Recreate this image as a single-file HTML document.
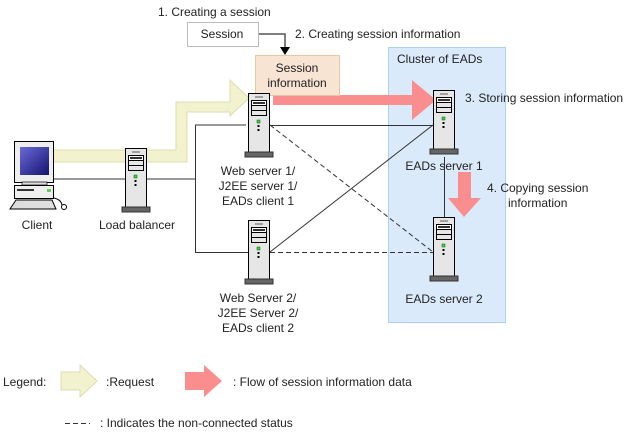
<!DOCTYPE html>
<html><head><style>
body{margin:0;background:#fff;}
svg{display:block;font-family:"Liberation Sans",Arial,sans-serif;font-size:12px;fill:#222;}
</style></head><body>
<svg width="632" height="433" viewBox="0 0 632 433" xmlns="http://www.w3.org/2000/svg">
<defs>
<g id="srv">
<rect x="0.5" y="0.5" width="21" height="59" fill="#e6e6e6" stroke="#000"/>
<line x1="7" y1="4" x2="15" y2="4" stroke="#888" stroke-width="1.5"/>
<rect x="3.5" y="7.5" width="15" height="5" fill="#fff" stroke="#000"/>
<rect x="5" y="9" width="12" height="2" fill="#333"/>
<rect x="3.5" y="12.5" width="15" height="5" fill="#e6e6e6" stroke="#000"/>
<rect x="3.5" y="17.5" width="15" height="5" fill="#e6e6e6" stroke="#000"/>
<rect x="9" y="27" width="3" height="3" fill="#4c4" stroke="#060" stroke-width="0.5"/>
<rect x="9.5" y="32" width="2" height="2" fill="#000"/>
<rect x="9.5" y="36" width="2" height="2" fill="#000"/>
<rect x="-3" y="59" width="28" height="5" fill="#666" stroke="#333"/>
</g>
<linearGradient id="scr" x1="0" y1="0" x2="1" y2="1"><stop offset="0" stop-color="#6a6ad8"/><stop offset="1" stop-color="#141470"/></linearGradient>
</defs>

<!-- cluster -->
<rect x="388.5" y="47.5" width="117" height="275" fill="#dbeafb" stroke="#aed0f2"/>
<text x="397" y="63">Cluster of EADs</text>

<!-- session -->
<text x="158" y="16">1. Creating a session</text>
<rect x="187.5" y="22.5" width="71" height="24" fill="#fff" stroke="#bbb"/>
<text x="222" y="38" text-anchor="middle">Session</text>
<polyline points="259,34 285,34 285,49" fill="none" stroke="#555" stroke-width="1.5"/>
<polygon points="280,47 290,47 285,55" fill="#000"/>
<text x="295" y="38">2. Creating session information</text>

<!-- yellow request arrow -->
<polygon points="53,150 176,150 176,102 230,102 230,80 249,98 230,116 230,112 187,112 187,162 53,162" fill="#f2f2cf" stroke="#dcdcb0"/>

<!-- red arrow -->
<polygon points="273,95 412,95 412,80 436,100 412,120 412,105 273,105" fill="#fa8e8e"/>
<rect x="255.5" y="55.5" width="84" height="40" fill="#f8e4d2" stroke="#e8c8a4"/>
<text x="297" y="72" text-anchor="middle">Session</text>
<text x="297" y="87" text-anchor="middle">information</text>
<text x="465" y="102">3. Storing session information</text>

<!-- lines -->
<polyline points="53,179 195,179" fill="none" stroke="#333"/>
<polyline points="246,125 195.5,125 195.5,252.5 248,252.5" fill="none" stroke="#333"/>
<line x1="270" y1="125.5" x2="433" y2="125.5" stroke="#333"/>
<line x1="270" y1="252" x2="433" y2="125" stroke="#333"/>
<line x1="270" y1="125" x2="433" y2="252" stroke="#333" stroke-dasharray="5,3"/>
<line x1="270" y1="252.5" x2="433" y2="252.5" stroke="#333" stroke-dasharray="5,3"/>
<line x1="444.5" y1="157" x2="444.5" y2="217" stroke="#333"/>

<!-- down arrow -->
<polygon points="458,172 471,172 471,198 481,198 464,217 448,198 458,198" fill="#fa8e8e"/>
<text x="487" y="192">4. Copying session</text>
<text x="508" y="207">information</text>

<!-- client -->
<rect x="14.5" y="141.5" width="39" height="41" fill="#eee" stroke="#000"/>
<rect x="20" y="147" width="29" height="28" fill="url(#scr)"/>
<rect x="22" y="182" width="25" height="3" fill="#ddd" stroke="#000" stroke-width="0.7"/>
<rect x="14.5" y="185.5" width="39" height="13" fill="#eee" stroke="#000"/>
<rect x="17" y="189" width="17" height="2" fill="#333"/>
<rect x="47" y="189" width="4" height="3" fill="#6c6"/>
<polygon points="16,200 52,200 56,209 10,209" fill="#ddd" stroke="#000"/>
<path d="M54,198 Q62,200 62,206" fill="none" stroke="#000"/>
<circle cx="64" cy="207" r="2.5" fill="#fff" stroke="#000"/>
<text x="37" y="229" text-anchor="middle">Client</text>

<use href="#srv" x="125" y="148"/>
<text x="137" y="229" text-anchor="middle">Load balancer</text>

<use href="#srv" x="248" y="93"/>
<text x="258" y="175" text-anchor="middle">Web server 1/</text>
<text x="258" y="190" text-anchor="middle">J2EE server 1/</text>
<text x="258" y="205" text-anchor="middle">EADs client 1</text>

<use href="#srv" x="248" y="220"/>
<text x="258" y="302" text-anchor="middle">Web Server 2/</text>
<text x="258" y="317" text-anchor="middle">J2EE Server 2/</text>
<text x="258" y="332" text-anchor="middle">EADs client 2</text>

<use href="#srv" x="433" y="90"/>
<text x="444" y="170" text-anchor="middle">EADs server 1</text>
<use href="#srv" x="433" y="217"/>
<text x="444" y="303" text-anchor="middle">EADs server 2</text>

<!-- legend -->
<text x="3" y="386">Legend:</text>
<polygon points="61,372 80,372 80,365 97,381 80,397 80,390 61,390" fill="#f2f2cf" stroke="#dcdcb0"/>
<text x="106" y="386">:Request</text>
<polygon points="185,372 204,372 204,365 222,381 204,397 204,390 185,390" fill="#fa8e8e"/>
<text x="233" y="386">: Flow of session information data</text>
<line x1="65" y1="423.5" x2="90" y2="423.5" stroke="#333" stroke-dasharray="5,3"/>
<text x="100" y="427">: Indicates the non-connected status</text>
</svg>
</body></html>
